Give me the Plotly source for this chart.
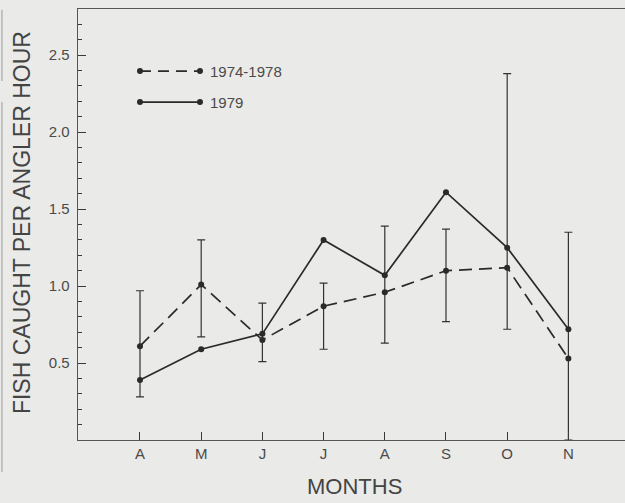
import plotly.graph_objects as go

# Monthly catch rates (fish caught per angler hour)
months = ["A", "M", "J", "J", "A", "S", "O", "N"]
rate_1974_1978 = [0.61, 1.01, 0.65, 0.87, 0.96, 1.10, 1.12, 0.53]
rate_1979 = [0.39, 0.59, 0.69, 1.30, 1.07, 1.61, 1.25, 0.72]
# Range bars around the 1974-1978 means
range_top = [0.97, 1.30, 0.89, 1.02, 1.39, 1.37, 2.38, 1.35]
range_bottom = [0.28, 0.67, 0.51, 0.59, 0.63, 0.77, 0.72, 0.0]
y_major_step = 0.5
y_minor_step = 0.1

BG = "#eaeae8"
INK = "#2a2a2a"
TICK = "#3a3a3a"
FONT = "Liberation Sans, Arial, sans-serif"

x_idx = list(range(len(months)))
err_plus = [t - v for t, v in zip(range_top, rate_1974_1978)]
err_minus = [v - b for v, b in zip(rate_1974_1978, range_bottom)]

fig = go.Figure()
fig.add_trace(go.Scatter(
    x=x_idx, y=rate_1974_1978, mode="lines+markers", name="1974-1978",
    line=dict(color=INK, width=1.7, dash="13px,7px"),
    marker=dict(color=INK, size=6),
    error_y=dict(type="data", symmetric=False, array=err_plus, arrayminus=err_minus,
                 color="#333333", thickness=1.2, width=4),
    showlegend=False,
))
fig.add_trace(go.Scatter(
    x=x_idx, y=rate_1979, mode="lines+markers", name="1979",
    line=dict(color=INK, width=1.7),
    marker=dict(color=INK, size=6),
    showlegend=False,
))

# Hand-drawn key in the upper-left corner
key_x0, key_x1, key_lbl = 0.1133, 0.223, 0.2377
shapes = []
for yk, dash in [(0.856, "11px,7px"), (0.784, "solid")]:
    shapes.append(dict(type="line", xref="paper", yref="paper", x0=key_x0, x1=key_x1,
                       y0=yk, y1=yk, line=dict(color=INK, width=1.7, dash=dash)))
    for xk in (key_x0, key_x1):
        shapes.append(dict(type="circle", xref="paper", yref="paper",
                           xsizemode="pixel", ysizemode="pixel", xanchor=xk, yanchor=yk,
                           x0=-3, x1=3, y0=-3, y1=3,
                           fillcolor=INK, line=dict(color=INK, width=0)))
# Rule along the left edge of the page
for y0, y1 in [(0.998, 0.833), (0.784, -0.074)]:
    shapes.append(dict(type="line", xref="paper", yref="paper", x0=-0.139, x1=-0.139,
                       y0=y0, y1=y1, line=dict(color="#9a9a9a", width=1)))

annotations = [
    dict(text="1974-1978", xref="paper", yref="paper", x=key_lbl, y=0.856,
         xanchor="left", yanchor="middle", showarrow=False,
         font=dict(family=FONT, size=15, color="#4a4a4a")),
    dict(text="1979", xref="paper", yref="paper", x=key_lbl, y=0.784,
         xanchor="left", yanchor="middle", showarrow=False,
         font=dict(family=FONT, size=15, color="#4a4a4a")),
    dict(text="MONTHS", xref="paper", yref="paper", x=0.505, y=-0.107,
         xanchor="center", yanchor="middle", showarrow=False,
         font=dict(family=FONT, size=22, color="#444444")),
    dict(text="FISH CAUGHT PER ANGLER HOUR", xref="paper", yref="paper",
         x=-0.101, y=0.505, textangle=-90, xanchor="center", yanchor="middle",
         showarrow=False, font=dict(family=FONT, size=23, color="#444444")),
]

fig.update_layout(
    width=625, height=503,
    margin=dict(l=78, r=0, t=9, b=63),
    paper_bgcolor=BG, plot_bgcolor=BG,
    font=dict(family=FONT, color="#555555"),
    shapes=shapes, annotations=annotations,
)
fig.update_xaxes(
    range=[-1.013, 7.925], tickmode="array", tickvals=x_idx, ticktext=months,
    ticks="inside", ticklen=8, tickwidth=1.4, tickcolor=TICK,
    showline=True, linecolor="#555555", linewidth=1.2, mirror=True,
    showgrid=False, zeroline=False,
    tickfont=dict(family=FONT, size=15, color="#4a4a4a"),
)
# Lower bound sits a hair above zero so no "0.0" label is drawn at the corner
fig.update_yaxes(
    range=[0.0005, 2.8], tickmode="linear", tick0=y_major_step, dtick=y_major_step,
    tickformat=".1f", ticksuffix=" ",
    ticks="inside", ticklen=8, tickwidth=1.4, tickcolor=TICK,
    minor=dict(dtick=y_minor_step, ticks="inside", ticklen=4,
               tickwidth=1.2, tickcolor=TICK, showgrid=False),
    showline=True, linecolor="#555555", linewidth=1.2, mirror=False,
    showgrid=False, zeroline=False,
    tickfont=dict(family=FONT, size=15, color="#4a4a4a"),
)

fig.write_html("out.html")
